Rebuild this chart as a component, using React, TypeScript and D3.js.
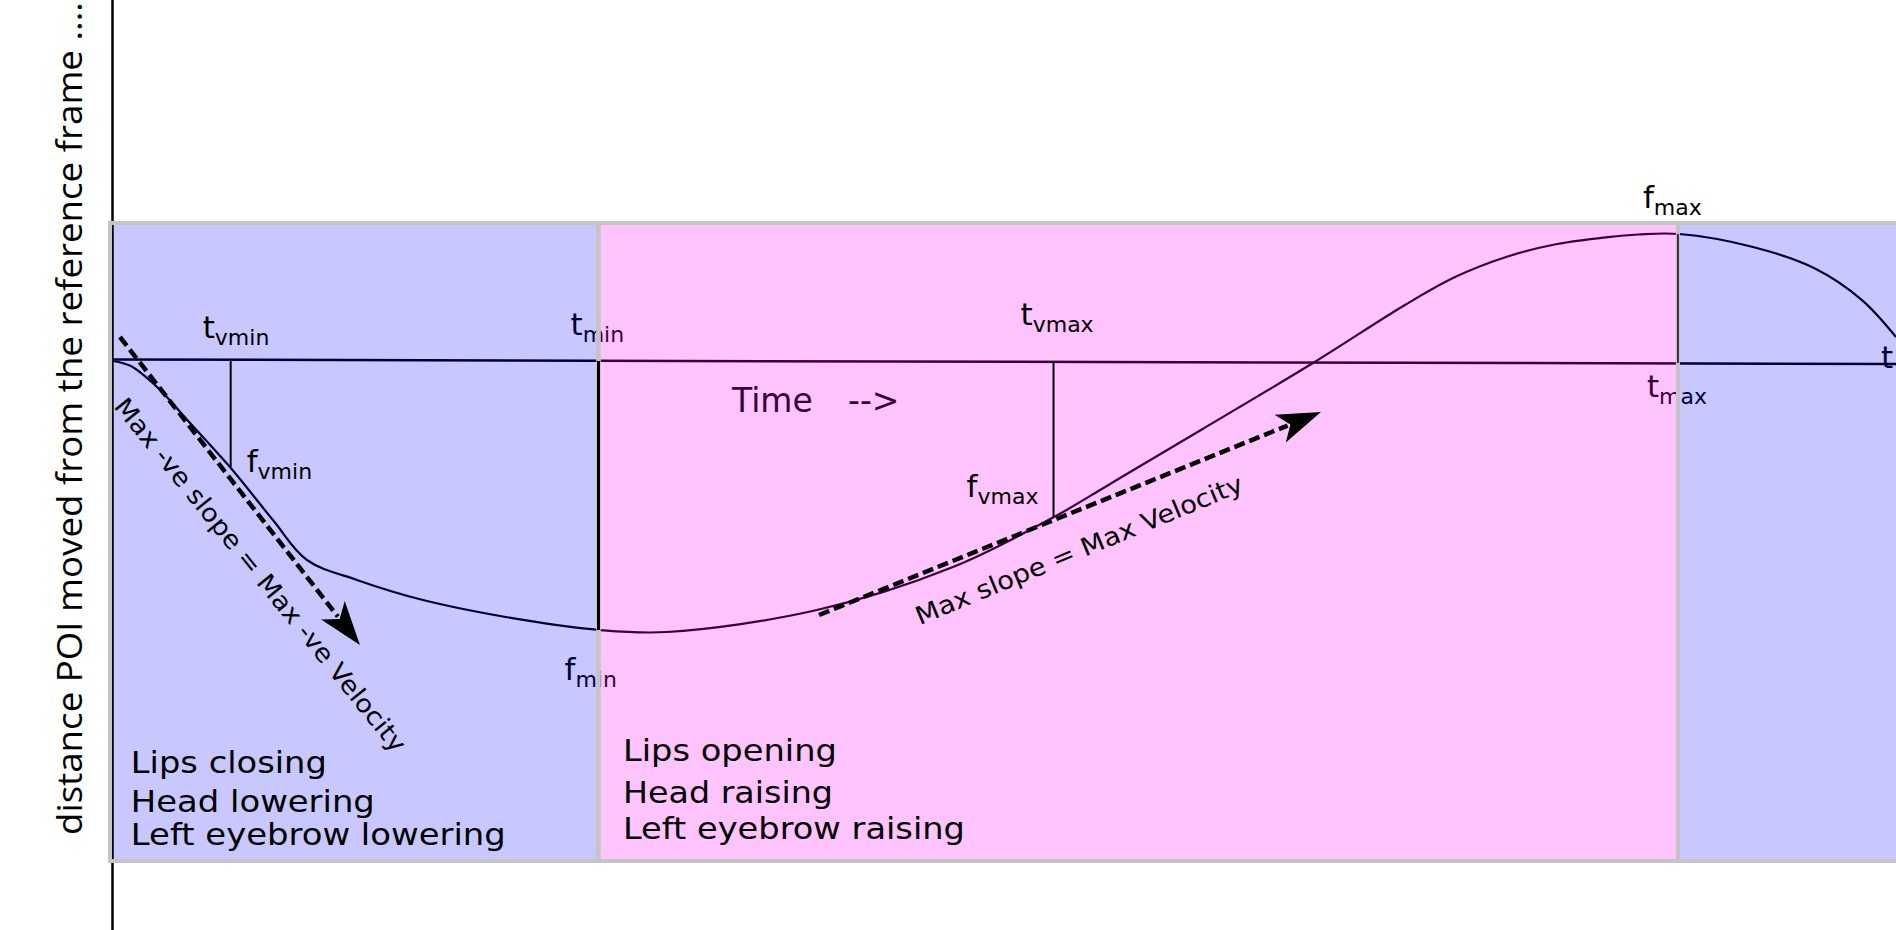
import React from 'react';
import * as d3 from 'd3';

const W = 1896;
const H = 930;

// displacement curve: time in frames, displacement normalised so f_max = 1
const frames = [0, 1.0, 2.47, 4.32, 6.56, 8.97, 10.88, 13.68, 17.39, 23.0, 27.26, 31.07, 39.48, 47.11, 52.78, 55.36, 56.48, 61.02, 67.3, 72.46, 75.27, 78.13, 80.99, 83.85, 85.53, 87.83, 91.98, 95.4, 98.09, 100];
const displacement = [0, -0.04, -0.205, -0.488, -0.835, -1.252, -1.567, -1.724, -1.882, -2.039, -2.118, -2.134, -1.961, -1.622, -1.228, -1.016, -0.921, -0.543, -0.016, 0.441, 0.661, 0.819, 0.921, 0.976, 0.996, 1.0, 0.898, 0.732, 0.48, 0.189];

// phases
const phaseStarts = [0, 27.23, 87.77];
const phaseEnds = [27.23, 87.77, 106];
const phaseKinds = ['closing', 'opening', 'closing'];
const phaseTexts = [
  ['Lips closing', 'Head lowering', 'Left eyebrow lowering'],
  ['Lips opening', 'Head raising', 'Left eyebrow raising'],
  [],
];
const phaseTextLengths = [[196, 244, 375], [214, 210, 342], []];

// events
const eventTimes = { vmin: 6.6, min: 27.23, vmax: 52.75, max: 87.77 };
const eventValues = { vmin: -0.835, min: -2.118, vmax: -1.228, max: 1.0 };

// tangent arrows (start -> tip), in frames / displacement
const arrow1 = [[0.39, 0.189], [13.85, -2.236]];
const arrow2 = [[39.6, -2.0], [67.75, -0.402]];

const baselineEnds = [[0, 0.012], [100, -0.024]];

const x = d3.scaleLinear().domain([0, 100]).range([113, 1896]);
const y = d3.scaleLinear().domain([0, 1]).range([361, 234]);

const PANEL_TOP = 223;
const PANEL_BOTTOM = 861;

const FONT = 'DejaVu Sans';

function Sub({ px, py, main, sub, fill = '#000' }) {
  return (
    <text x={px} y={py} fontFamily={FONT} fontSize={31} fill={fill}>
      {main}
      {sub ? <tspan dy={7} fontSize={22}>{sub}</tspan> : null}
    </text>
  );
}

function Arrow({ pts }) {
  const x0 = x(pts[0][0]);
  const y0 = y(pts[0][1]);
  const x1 = x(pts[1][0]);
  const y1 = y(pts[1][1]);
  const ang = Math.atan2(y1 - y0, x1 - x0);
  const len = Math.hypot(x1 - x0, y1 - y0);
  const headLen = 44;
  const ex = x0 + Math.cos(ang) * (len - headLen + 8);
  const ey = y0 + Math.sin(ang) * (len - headLen + 8);
  const deg = (ang * 180) / Math.PI;
  return (
    <g>
      <line x1={x0} y1={y0} x2={ex} y2={ey} stroke="#000" strokeWidth={4.5} strokeDasharray="11 5" />
      <path
        d={`M0,0 L${-headLen},${-15} L${-headLen + 11},0 L${-headLen},15 Z`}
        transform={`translate(${x1},${y1}) rotate(${deg})`}
        fill="#000"
      />
    </g>
  );
}

export default function App() {
  const pts = frames.map((t, i) => [t, displacement[i]]);
  const line = d3
    .line()
    .x((d) => x(d[0]))
    .y((d) => y(d[1]))
    .curve(d3.curveCatmullRom.alpha(0.5));

  const colorFor = (k) => (k === 'closing' ? '#0000ff' : '#ff00f5');
  const opFor = (k) => (k === 'closing' ? 0.215 : 0.23);

  const ev = (k) => x(eventTimes[k]);

  return (
    <svg
      width={W}
      height={H}
      style={{ position: 'absolute', left: 0, top: 0, display: 'block', background: '#fff' }}
    >
      <rect x={0} y={0} width={W} height={H} fill="#fff" />

      {/* drawn beneath translucent phase overlays */}
      <line x1={112.5} y1={0} x2={112.5} y2={H} stroke="#000" strokeWidth={2.5} />
      <line
        x1={x(baselineEnds[0][0])}
        y1={y(baselineEnds[0][1])}
        x2={x(baselineEnds[1][0])}
        y2={y(baselineEnds[1][1])}
        stroke="#000"
        strokeWidth={2.5}
      />
      <path d={line(pts)} fill="none" stroke="#000" strokeWidth={2.2} />
      <text x={732} y={412} fontFamily={FONT} fontSize={33} fill="#000">Time</text>
      <text x={848} y={412} fontFamily={FONT} fontSize={33} fill="#000">--&gt;</text>
      <Sub px={ev('min') - 28} py={335} main="t" sub="min" />
      <Sub px={ev('min') - 34} py={680} main="f" sub="min" />
      <Sub px={ev('max') - 31} py={397} main="t" sub="max" />
      <Sub px={1881} py={368} main="t" sub="" />

      {/* phase overlays */}
      {phaseStarts.map((s, i) => (
        <rect
          key={'ph' + i}
          x={x(s)}
          y={PANEL_TOP}
          width={x(phaseEnds[i]) - x(s)}
          height={PANEL_BOTTOM - PANEL_TOP}
          fill={colorFor(phaseKinds[i])}
          fillOpacity={opFor(phaseKinds[i])}
        />
      ))}
      {phaseStarts.map((s, i) => (
        <rect
          key={'pb' + i}
          x={x(s) - (i === 0 ? 3 : 0)}
          y={PANEL_TOP}
          width={x(phaseEnds[i]) - x(s) + (i === 0 ? 3 : 0)}
          height={PANEL_BOTTOM - PANEL_TOP}
          fill="none"
          stroke="#c4c4c4"
          strokeWidth={4}
        />
      ))}

      {/* event drop lines */}
      <line x1={ev('vmin')} y1={y(0)} x2={ev('vmin')} y2={y(eventValues.vmin)} stroke="#000" strokeWidth={2} />
      <line x1={ev('min')} y1={y(0)} x2={ev('min')} y2={y(eventValues.min)} stroke="#000" strokeWidth={3} />
      <line x1={ev('vmax')} y1={y(0)} x2={ev('vmax')} y2={y(eventValues.vmax)} stroke="#000" strokeWidth={2} />
      <line x1={ev('max')} y1={y(eventValues.max)} x2={ev('max')} y2={y(0) + 2} stroke="#333" strokeWidth={2} />

      <Sub px={ev('vmin') - 28} py={338} main="t" sub="vmin" />
      <Sub px={ev('vmin') + 16} py={472} main="f" sub="vmin" />
      <Sub px={ev('vmax') - 33} py={325} main="t" sub="vmax" />
      <Sub px={ev('vmax') - 87} py={497} main="f" sub="vmax" />
      <Sub px={ev('max') - 35} py={208} main="f" sub="max" />

      <Arrow pts={arrow1} />
      <Arrow pts={arrow2} />

      <text
        x={0}
        y={0}
        transform={`translate(${x(0)},${y(-0.36)}) rotate(51)`}
        fontFamily={FONT}
        fontSize={25}
        textLength={447}
        lengthAdjust="spacingAndGlyphs"
      >
        Max -ve slope = Max -ve Velocity
      </text>
      <text
        x={0}
        y={0}
        transform={`translate(${x(45.25)},${y(-2.08)}) rotate(-22.5)`}
        fontFamily={FONT}
        fontSize={25}
        textLength={352}
        lengthAdjust="spacingAndGlyphs"
      >
        Max slope = Max Velocity
      </text>

      {/* phase descriptions */}
      {phaseTexts[0].map((t, j) => (
        <text key={'a' + j} x={x(1.0)} y={[773, 812, 845][j]} fontFamily={FONT} fontSize={30}
          textLength={phaseTextLengths[0][j]} lengthAdjust="spacingAndGlyphs">{t}</text>
      ))}
      {phaseTexts[1].map((t, j) => (
        <text key={'b' + j} x={x(28.6)} y={[761, 803, 839][j]} fontFamily={FONT} fontSize={30}
          textLength={phaseTextLengths[1][j]} lengthAdjust="spacingAndGlyphs">{t}</text>
      ))}

      {/* y axis label */}
      <text
        transform={`translate(82,835) rotate(-90)`}
        fontFamily="Open Sans"
        fontSize={34}
        textLength={833}
        lengthAdjust="spacingAndGlyphs"
      >
        distance POI moved from the reference frame ....
      </text>
    </svg>
  );
}
